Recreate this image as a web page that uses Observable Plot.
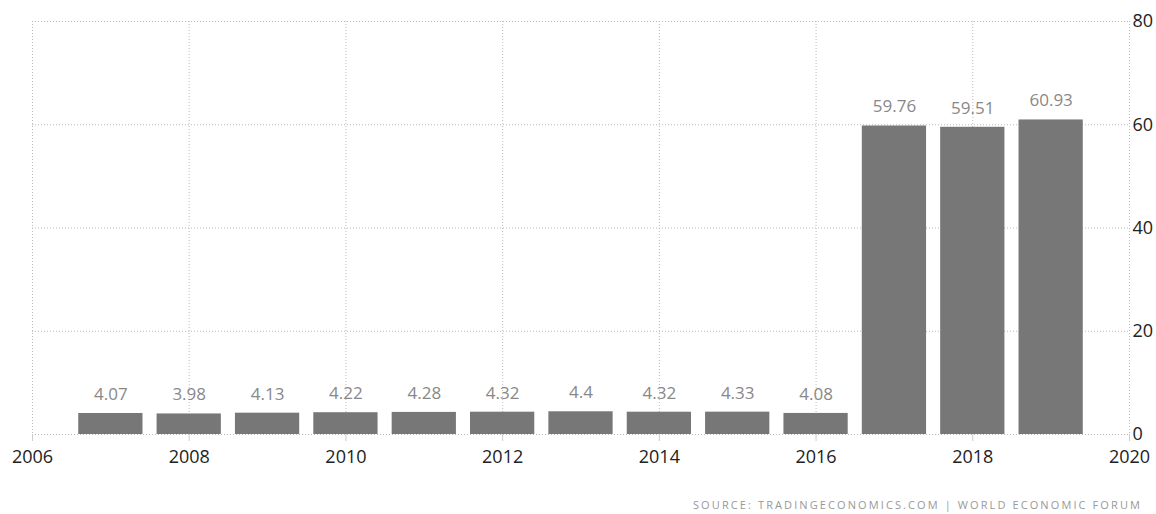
<!DOCTYPE html>
<html>
<head>
<meta charset="utf-8">
<script src="https://cdn.jsdelivr.net/npm/d3@7"></script>
<script src="https://cdn.jsdelivr.net/npm/@observablehq/plot@0.6"></script>
<style>
  html, body { margin: 0; padding: 0; background: #fff; }
  #chart { position: relative; width: 1156px; }
  .source { font-family: "Open Sans", sans-serif; font-size: 11px; color: #999; letter-spacing: 2.1px;
            text-align: right; padding-right: 14px; margin-top: 18px; line-height: 14px; }
</style>
</head>
<body>
<div id="chart"></div>
<script>
const years = [2007, 2008, 2009, 2010, 2011, 2012, 2013, 2014, 2015, 2016, 2017, 2018, 2019];
const values = [4.07, 3.98, 4.13, 4.22, 4.28, 4.32, 4.4, 4.32, 4.33, 4.08, 59.76, 59.51, 60.93];
const labels = ["4.07", "3.98", "4.13", "4.22", "4.28", "4.32", "4.4", "4.32", "4.33", "4.08", "59.76", "59.51", "60.93"];
const xTicks = [2006, 2008, 2010, 2012, 2014, 2016, 2018, 2020];
const yTicks = [0, 20, 40, 60, 80];
const sourceText = "SOURCE: TRADINGECONOMICS.COM | WORLD ECONOMIC FORUM";

const data = years.map((y, i) => ({year: y, value: values[i], label: labels[i]}));
const half = 0.41;

const chart = Plot.plot({
  width: 1156,
  height: 480,
  marginLeft: 32,
  marginRight: 27,
  marginTop: 21,
  marginBottom: 46,
  style: {fontFamily: "'Open Sans', sans-serif", background: "#fff"},
  x: {domain: [2006, 2020], ticks: xTicks, tickFormat: d => String(d)},
  y: {domain: [0, 80], ticks: yTicks},
  marks: [
    Plot.gridX(xTicks, {stroke: "#bbb", strokeOpacity: 1, strokeDasharray: "1,2", strokeWidth: 1}),
    Plot.gridY(yTicks, {stroke: "#bbb", strokeOpacity: 1, strokeDasharray: "1,2", strokeWidth: 1}),
    Plot.rectY(data, {x1: d => d.year - half, x2: d => d.year + half, y: "value", fill: "#777"}),
    Plot.text(data, {x: "year", y: "value", text: "label", dy: -19, fill: "#888", fontSize: 17}),
    Plot.axisX({ticks: xTicks, tickFormat: d => String(d), tickSize: 7, tickPadding: 9, stroke: "#ccc", fontSize: 18, fill: "#222", label: null}),
    Plot.axisY({anchor: "right", ticks: yTicks, tickSize: 0, tickPadding: 3, fontSize: 18, fill: "#222", label: null})
  ]
});
document.getElementById("chart").appendChild(chart);
const src = document.createElement("div");
src.className = "source";
src.textContent = sourceText;
document.getElementById("chart").appendChild(src);
</script>
</body>
</html>
